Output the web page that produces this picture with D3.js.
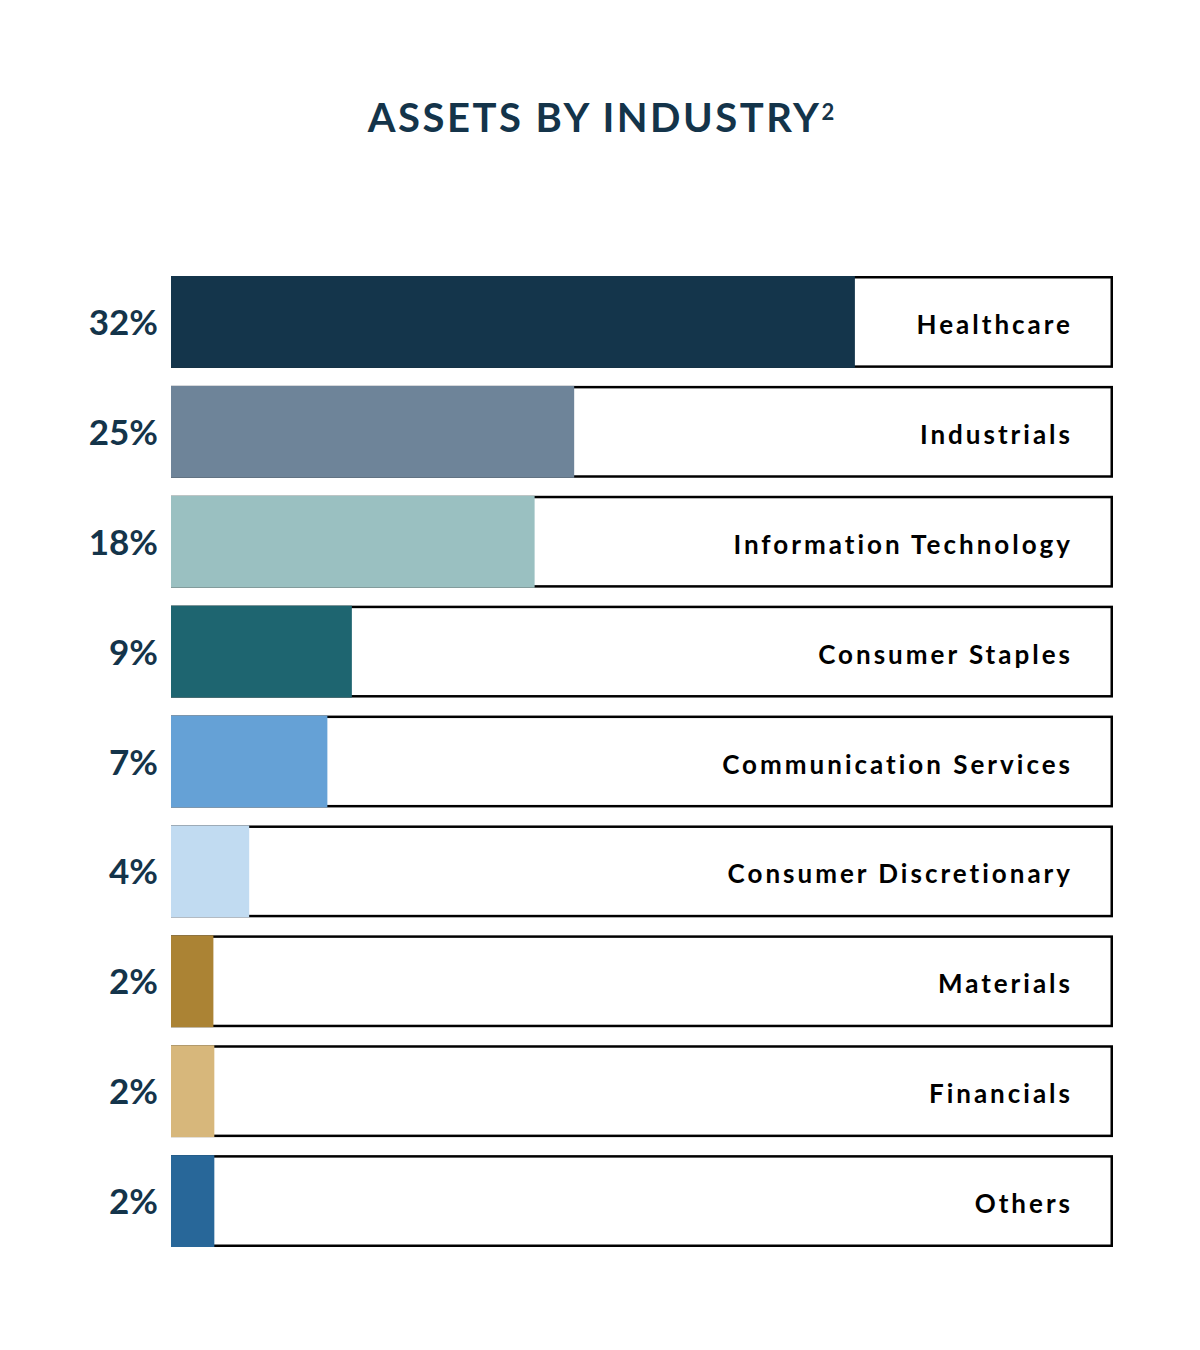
<!DOCTYPE html>
<html>
<head>
<meta charset="utf-8">
<script src="https://cdn.jsdelivr.net/npm/d3@7"></script>
<style>
  html, body { margin: 0; padding: 0; background: #ffffff; }
  svg { display: block; }
</style>
</head>
<body>
<div id="chart"></div>
<script>
// ---- data ----
const categories = [
  "Healthcare", "Industrials", "Information Technology", "Consumer Staples",
  "Communication Services", "Consumer Discretionary", "Materials", "Financials", "Others"
];
const percentLabels = [32, 25, 18, 9, 7, 4, 2, 2, 2];
// bar length as drawn in the reference, in percent of the full track
const barLengths = [72.6, 42.8, 38.6, 19.2, 16.6, 8.3, 4.5, 4.6, 4.6];
const barColors = [
  "#14354b", "#6e8499", "#9ac0c1", "#1e6570", "#65a1d6",
  "#c1dbf1", "#ab8334", "#d7b77b", "#286799"
];
const titleText = "ASSETS BY INDUSTRY";
const titleSup = "2";

// ---- layout ----
const W = 1200, H = 1350;
const svg = d3.select("#chart").append("svg")
  .attr("width", W).attr("height", H);

const x = d3.scaleLinear().domain([0, 100]).range([171, 1113]);
const y = d3.scaleBand().domain(categories).range([276, 1247])
  .paddingInner(0.164).paddingOuter(0);

const rows = categories.map((c, i) => ({
  cat: c, pct: percentLabels[i], len: barLengths[i], color: barColors[i]
}));

// title
const title = svg.append("text")
  .attr("x", 601).attr("y", 132)
  .attr("text-anchor", "middle")
  .attr("fill", "#14344a")
  .style("font-family", "Lato, sans-serif")
  .style("font-weight", 700)
  .style("font-size", "40px")
  .style("letter-spacing", "2.5px");
title.append("tspan").text(titleText);
title.append("tspan")
  .attr("dy", -12)
  .style("font-size", "22px")
  .style("letter-spacing", "0px")
  .text(titleSup);

const g = svg.append("g");
const sw = 2.5;

const row = g.selectAll("g.row").data(rows).join("g").attr("class", "row");

// frame (track)
row.append("rect")
  .attr("x", x(0) + sw / 2)
  .attr("y", d => y(d.cat) + sw / 2)
  .attr("width", x(100) - x(0) - sw)
  .attr("height", y.bandwidth() - sw)
  .attr("fill", "#ffffff")
  .attr("stroke", "#000000")
  .attr("stroke-width", sw);

// bar
row.append("rect")
  .attr("x", x(0))
  .attr("y", d => y(d.cat))
  .attr("width", d => x(d.len) - x(0))
  .attr("height", y.bandwidth())
  .attr("fill", d => d.color);

// percentage labels
row.append("text")
  .attr("x", 158)
  .attr("y", d => y(d.cat) + y.bandwidth() / 2)
  .attr("dy", 13)
  .attr("text-anchor", "end")
  .attr("fill", "#14344a")
  .style("font-family", "Lato, sans-serif")
  .style("font-weight", 700)
  .style("font-size", "35px")
  .text(d => d.pct + "%");

// category labels
row.append("text")
  .attr("x", x(100) - 40)
  .attr("y", d => y(d.cat) + y.bandwidth() / 2)
  .attr("dy", 12)
  .attr("text-anchor", "end")
  .attr("fill", "#000000")
  .style("font-family", "Lato, sans-serif")
  .style("font-weight", 700)
  .style("font-size", "26px")
  .style("letter-spacing", "3px")
  .text(d => d.cat);
</script>
</body>
</html>
